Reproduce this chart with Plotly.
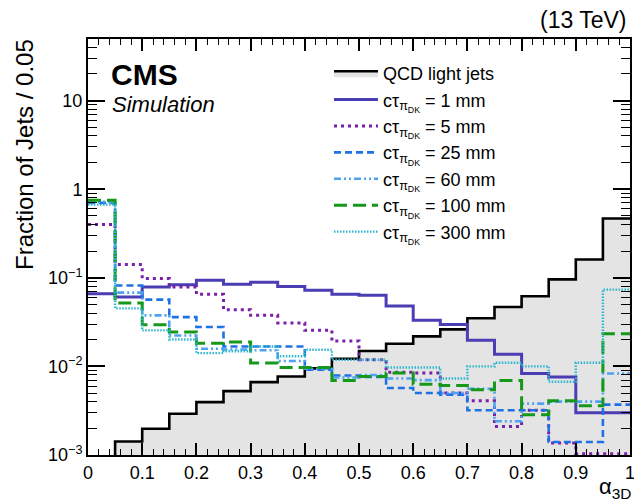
import numpy as np
import plotly.graph_objects as go

# ---- data (fraction of jets per 0.05 bin) ----
bin_lo = [round(0.05 * i, 2) for i in range(20)]
bin_hi_last = 1.0

qcd = [5e-4, 1.42e-3, 1.98e-3, 2.92e-3, 3.95e-3, 5.26e-3, 6.65e-3, 7.7e-3, 9.5e-3, 1.22e-2,
       1.49e-2, 1.8e-2, 2.18e-2, 2.62e-2, 3.5e-2, 4.68e-2, 6.2e-2, 9.6e-2, 0.161, 0.467]
ct1 = [0.0662, 0.0607, 0.0787, 0.0837, 0.0937, 0.0846, 0.089, 0.080, 0.0723, 0.065,
       0.0634, 0.048, 0.0331, 0.0298, 0.0197, 0.0137, 0.0083, 0.0076, 0.0030, 0.0030]
ct5 = [0.40, 0.141, 0.098, 0.0787, 0.065, 0.0437, 0.0377, 0.0309, 0.0255, 0.0193,
       0.0119, 0.0086, 0.0084, 0.0050, 0.0041, 0.0021, 0.0032, 0.00137, 0.00103, 0.00103]
ct25 = [0.70, 0.082, 0.0567, 0.036, 0.0278, 0.0168, 0.0168, 0.0168, 0.0092, 0.0079,
        0.0076, 0.0057, 0.0050, 0.0048, 0.0032, 0.0032, 0.0032, 0.0014, 0.0014, 0.0037]
ct60 = [0.72, 0.068, 0.0377, 0.0223, 0.0158, 0.0155, 0.0152, 0.0115, 0.0094, 0.0075,
        0.0080, 0.0073, 0.0070, 0.0050, 0.0056, 0.0024, 0.0038, 0.0040, 0.0040, 0.0083]
ct100 = [0.75, 0.052, 0.0295, 0.0244, 0.0183, 0.0188, 0.0109, 0.0097, 0.0097, 0.00695,
         0.0077, 0.0084, 0.0063, 0.0061, 0.00545, 0.00695, 0.00284, 0.0041, 0.0036, 0.0234]
ct300 = [0.67, 0.0452, 0.0255, 0.0201, 0.0141, 0.0148, 0.0168, 0.0130, 0.0154, 0.0119,
         0.0119, 0.0097, 0.0097, 0.0073, 0.0100, 0.0110, 0.0100, 0.0067, 0.0110, 0.0736]

labels = ["1 mm", "5 mm", "25 mm", "60 mm", "100 mm", "300 mm"]
series = [ct1, ct5, ct25, ct60, ct100, ct300]
colors = ["#4b3db3", "#7b1fa8", "#1f72e6", "#4ea2f2", "#16991a", "#2ab6d2"]
dashes = ["solid", "3px,4px", "7px,4px", "7px,3px,2px,3px,2px,3px", "13px,6px", "1.5px,1.5px"]
widths = [3, 3, 2.6, 2.6, 3, 2.4]

x_tickvals = [0, 0.1, 0.2, 0.3, 0.4, 0.5, 0.6, 0.7, 0.8, 0.9, 1]
x_ticktext = ["0", "0.1", "0.2", "0.3", "0.4", "0.5", "0.6", "0.7", "0.8", "0.9", "1"]

FONT = "Liberation Sans, Arial, Helvetica, sans-serif"


def steps(vals):
    return bin_lo + [bin_hi_last], list(vals) + [vals[-1]]


fig = go.Figure()
x, y = steps(qcd)
fig.add_trace(go.Scatter(x=x, y=y, mode="lines", line=dict(shape="hv", color="black", width=2.6),
                         fill="tozeroy", fillcolor="#e4e4e4", name="QCD light jets"))
for lab, s, c, d, w in zip(labels, series, colors, dashes, widths):
    x, y = steps(s)
    fig.add_trace(go.Scatter(x=x, y=y, mode="lines",
                             line=dict(shape="hv", color=c, width=w, dash=d),
                             name="cτ<sub>π<sub>DK</sub></sub> = " + lab))

W, H = 634, 502
L, R, T, B = 88, 4, 39, 47
pw, ph = W - L - R, H - T - B


def xp(px):
    return (px - L) / pw


def yp(py):
    return (T + ph - py) / ph


fig.update_layout(
    width=W, height=H, margin=dict(l=L, r=R, t=T, b=B, autoexpand=False),
    paper_bgcolor="white", plot_bgcolor="white",
    font=dict(family=FONT, size=18, color="black"),
    showlegend=True,
    legend=dict(x=xp(329), y=yp(55), xanchor="left", yanchor="top",
                bgcolor="rgba(0,0,0,0)", borderwidth=0, itemwidth=44,
                font=dict(size=18, family=FONT), tracegroupgap=0),
    xaxis=dict(range=[0, 1], showline=True, linecolor="black", linewidth=2, mirror="ticks",
               ticks="inside", ticklen=12, tickwidth=1.5, tickcolor="black",
               tickvals=x_tickvals, ticktext=x_ticktext,
               minor=dict(ticks="inside", ticklen=6, tickwidth=1.2, tickcolor="black", dtick=0.02, showgrid=False),
               showgrid=False, zeroline=False, tickfont=dict(size=18), automargin=False,
               ticklabeloverflow="allow"),
    yaxis=dict(type="log", range=[-3, 1.695], showline=True, linecolor="black", linewidth=2, mirror="ticks",
               ticks="inside", ticklen=17, tickwidth=1.5, tickcolor="black",
               tickvals=[0.001, 0.01, 0.1, 1, 10],
               ticktext=["10<sup>−3</sup>", "10<sup>−2</sup>", "10<sup>−1</sup>", "1", "10"],
               minor=dict(ticks="inside", ticklen=9, tickwidth=1.2, tickcolor="black", dtick="D1", showgrid=False),
               showgrid=False, zeroline=False, tickfont=dict(size=18), automargin=False),
)

fig.add_annotation(text="<b>CMS</b>", x=xp(109), y=yp(56), xref="paper", yref="paper",
                   xanchor="left", yanchor="top", showarrow=False, font=dict(size=30, family=FONT))
fig.add_annotation(text="<i>Simulation</i>", x=xp(110), y=yp(90), xref="paper", yref="paper",
                   xanchor="left", yanchor="top", showarrow=False, font=dict(size=22, family=FONT))
fig.add_annotation(text="(13 TeV)", x=xp(629), y=yp(5), xref="paper", yref="paper",
                   xanchor="right", yanchor="top", showarrow=False, font=dict(size=23, family=FONT))
fig.add_annotation(text="Fraction of Jets / 0.05", x=xp(9), y=yp(37), xref="paper", yref="paper",
                   xanchor="left", yanchor="top", textangle=-90, showarrow=False, font=dict(size=24, family=FONT))
fig.add_annotation(text="α<sub>3D</sub>", x=xp(633), y=yp(472), xref="paper", yref="paper",
                   xanchor="right", yanchor="top", showarrow=False, font=dict(size=22, family=FONT))

# remove the browser's default 8px page margin so the figure fills the window
fig.write_html("out.html", config={"responsive": False, "displayModeBar": False},
               post_script="document.body.style.margin='0';document.body.style.overflow='hidden';")
